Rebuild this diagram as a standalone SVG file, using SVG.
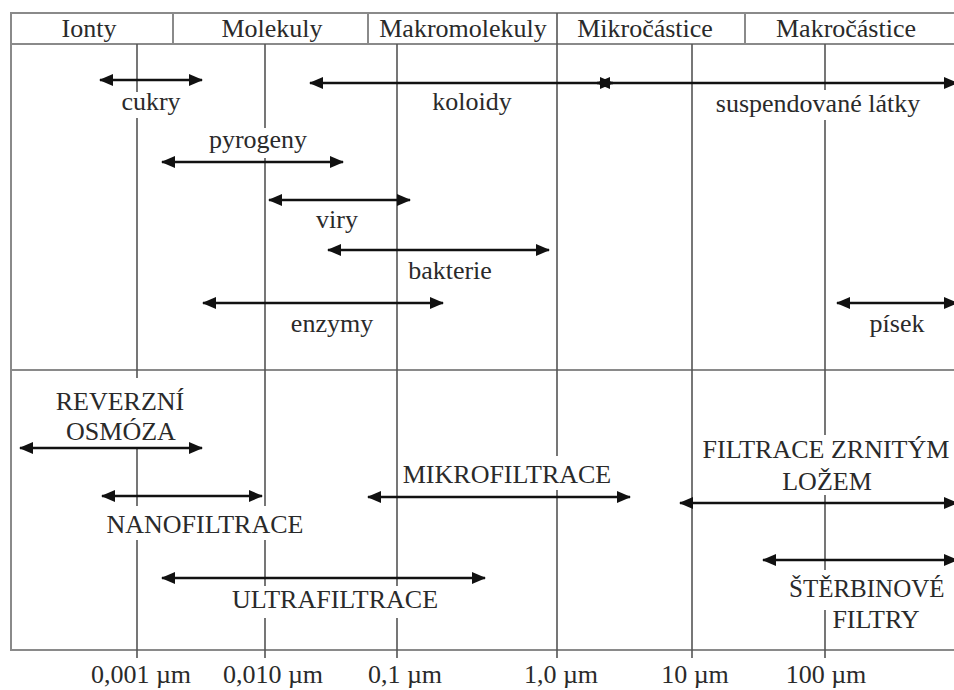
<svg xmlns="http://www.w3.org/2000/svg" width="954" height="690" viewBox="0 0 954 690">
<style>
text{font-family:"Liberation Serif","Times New Roman",serif;font-size:26px;fill:#2a2a2a;text-anchor:middle}
.frame{stroke:#8a8a8a;stroke-width:2;fill:none}
.grid{stroke:#555;stroke-width:1.6;fill:none}
.arr{stroke:#111;stroke-width:2.6;fill:none;marker-start:url(#ah);marker-end:url(#ah)}
</style>
<defs>
<marker id="ah" viewBox="0 0 14 12" markerWidth="14" markerHeight="12" refX="13" refY="6" orient="auto-start-reverse" markerUnits="userSpaceOnUse">
<path d="M0,0 L14,6 L0,12 Z" fill="#111"/>
</marker>
</defs>
<rect width="954" height="690" fill="#fff"/>
<g id="frame">
<path class="frame" d="M954,13 H11 V650 H954 M11,44 H954 M11,370 H954"/>
<path class="frame" d="M173,13 V44 M745,13 V44"/>
<path class="frame" stroke="#bbb" d="M368,13 V44"/>
<path class="grid" d="M557,13 V44"/>
</g>
<g id="header">
<text x="89" y="37">Ionty</text>
<text x="272" y="37">Molekuly</text>
<text x="463" y="37">Makromolekuly</text>
<text x="645" y="37">Mikročástice</text>
<text x="846" y="37">Makročástice</text>
</g>
<g id="gridlines">
<path class="grid" d="M137,44 V92 M137,118 V378 M137,447 V506 M137,540 V658"/>
<path class="grid" d="M265,44 V128 M265,158 V506 M265,540 V586 M265,618 V658"/>
<path class="grid" d="M397,44 V586 M397,618 V658"/>
<path class="grid" d="M557,44 V456 M557,490 V658"/>
<path class="grid" d="M692,44 V658"/>
<path class="grid" d="M825,44 V90 M825,120 V435 M825,495 V570 M825,610 V658"/>
</g>
<g id="connectors">
<line class="arr" x1="100" y1="80" x2="202" y2="80"/>
<line class="arr" x1="310" y1="83" x2="613" y2="83"/>
<line class="arr" x1="597" y1="83" x2="957" y2="83"/>
<line class="arr" x1="162" y1="162" x2="343" y2="162"/>
<line class="arr" x1="269" y1="200" x2="410" y2="200"/>
<line class="arr" x1="328" y1="250" x2="549" y2="250"/>
<line class="arr" x1="203" y1="303" x2="443" y2="303"/>
<line class="arr" x1="837" y1="303" x2="957" y2="303"/>
<line class="arr" x1="20" y1="448" x2="202" y2="448"/>
<line class="arr" x1="102" y1="496" x2="262" y2="496"/>
<line class="arr" x1="368" y1="497" x2="630" y2="497"/>
<line class="arr" x1="680" y1="503" x2="957" y2="503"/>
<line class="arr" x1="763" y1="560" x2="957" y2="560"/>
<line class="arr" x1="162" y1="578" x2="485" y2="578"/>
</g>
<g id="n-cukry"><text x="151" y="110">cukry</text></g>
<g id="n-koloidy"><text x="472" y="110">koloidy</text></g>
<g id="n-suspendovane"><text x="818" y="112">suspendované látky</text></g>
<g id="n-pyrogeny"><text x="258" y="148">pyrogeny</text></g>
<g id="n-viry"><text x="337" y="228">viry</text></g>
<g id="n-bakterie"><text x="450" y="279">bakterie</text></g>
<g id="n-enzymy"><text x="332" y="332">enzymy</text></g>
<g id="n-pisek"><text x="897" y="332">písek</text></g>
<g id="n-ro"><text x="120" y="410">REVERZNÍ</text><text x="121" y="440">OSMÓZA</text></g>
<g id="n-mf"><text x="507" y="483">MIKROFILTRACE</text></g>
<g id="n-nf"><text x="205" y="533">NANOFILTRACE</text></g>
<g id="n-uf"><text x="335" y="608">ULTRAFILTRACE</text></g>
<g id="n-fzl"><text x="826" y="458">FILTRACE ZRNITÝM</text><text x="827" y="490">LOŽEM</text></g>
<g id="n-sf"><text x="789" y="597" style="text-anchor:start;font-size:25px">ŠTĚRBINOVÉ</text><text x="876" y="628">FILTRY</text></g>
<g id="scale">
<text x="141" y="683">0,001 µm</text>
<text x="273" y="683">0,010 µm</text>
<text x="405" y="683">0,1 µm</text>
<text x="561" y="683">1,0 µm</text>
<text x="695" y="683">10 µm</text>
<text x="826" y="683">100 µm</text>
</g>
</svg>
